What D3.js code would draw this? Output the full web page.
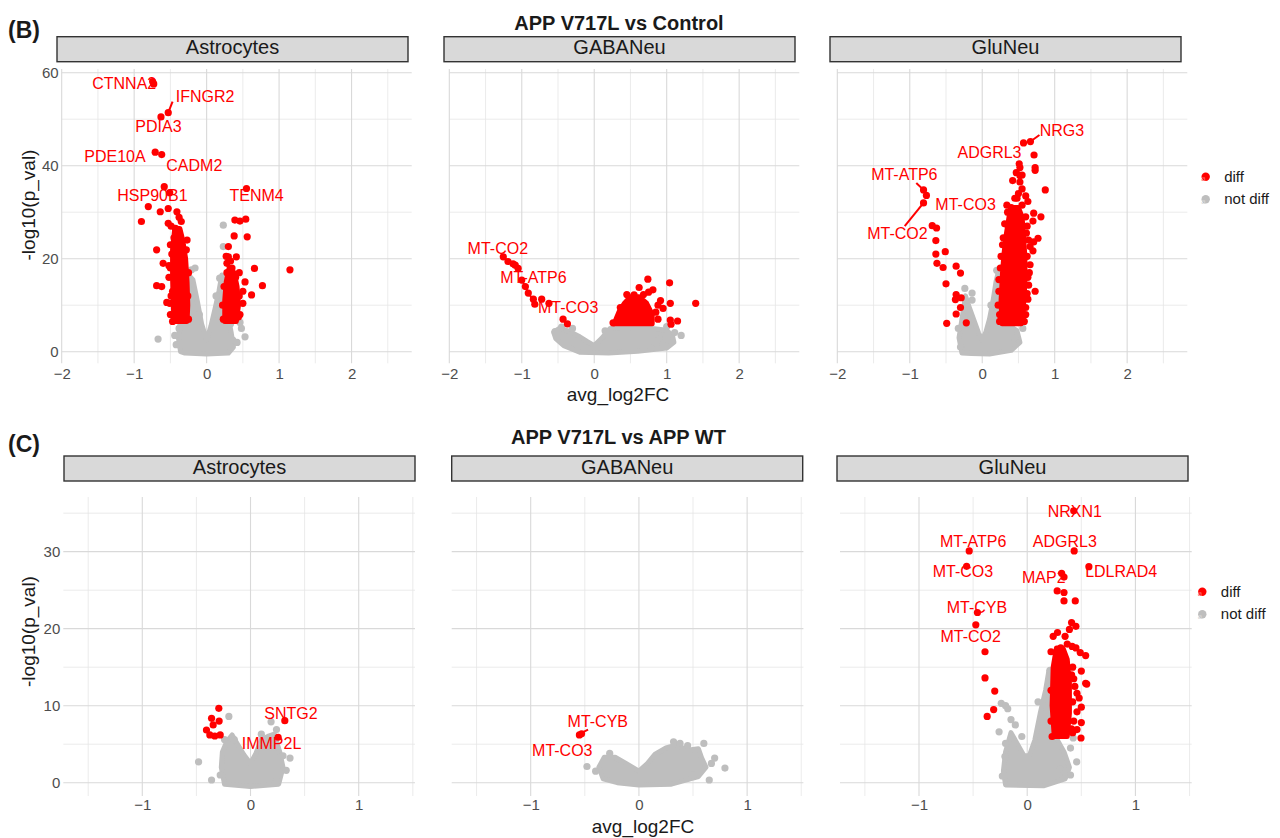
<!DOCTYPE html>
<html lang="en">
<head>
<meta charset="UTF-8">
<title>Volcano plots</title>
<script src="https://cdn.jsdelivr.net/npm/d3@7"></script>
<style>
body { margin: 0; background: #fff; }
svg { display: block; font-family: "Liberation Sans", Arial, sans-serif; }
</style>
</head>
<body>
<svg id="chart" width="1280" height="838"></svg>
<script>
// ---- data ----
const cellTypes = ['Astrocytes', 'GABANeu', 'GluNeu']

const ctrlXTicks = [-2, -1, 0, 1, 2]
const ctrlXMinor = [-1.5, -0.5, 0.5, 1.5, 2.5]
const ctrlYTicks = [0, 20, 40, 60]
const ctrlYMinor = [10, 30, 50]
const wtXTicks = [-1, 0, 1]
const wtXMinor = [-1.5, -0.5, 0.5, 1.5]
const wtYTicks = [0, 10, 20, 30]
const wtYMinor = [5, 15, 25, 35]

// APP V717L vs Control : Astrocytes
const ctrlAstroGrayCloud = [[-0.36,0],[-0.39,3],[-0.36,7],[-0.31,12],[-0.25,16.5],[-0.19,15.5],[-0.13,11],[-0.07,6],[0,2.5],[0.06,5.5],[0.12,9.5],[0.17,13],[0.21,16.5],[0.26,14],[0.29,8],[0.34,4],[0.37,1],[0.3,-0.3],[0,-0.5],[-0.3,-0.3]]
const ctrlAstroGray = [[-0.67,2.7],[0.48,5.0],[0.53,3.2],[0.46,6.3],[0.23,27.2],[0.23,22.6],[0.18,15.8],[-0.21,17.6],[-0.16,18],[0.42,2],[-0.42,1.5],[-0.38,5],[-0.33,9],[0.29,10],[0.33,6],[0.36,2.5],[-0.1,8],[0.13,12],[-0.44,3.5]]
const ctrlAstroRedCloud = [
  [[-0.45,6.5],[-0.27,6.5],[-0.26,10],[-0.27,15],[-0.29,20],[-0.33,24],[-0.37,26.5],[-0.44,26.5],[-0.47,22],[-0.47,16],[-0.46,10]],
  [[0.25,6.5],[0.41,6.5],[0.44,10],[0.42,14],[0.38,17],[0.31,18],[0.27,15],[0.25,11]]
]
const ctrlAstroRed = [[-0.745,58.1],[-0.73,57.6],[-0.53,51.4],[-0.63,50.5],[-0.71,42.9],[-0.62,42.4],[-0.585,35.5],[-0.51,34.2],[-0.805,31.2],[-0.9,28],[-0.64,30.1],[-0.53,30.8],[-0.41,30.1],[-0.38,28.9],[-0.53,27.6],[-0.43,26.5],[-0.4,25.5],[-0.45,24.5],[-0.69,21.9],[-0.28,21.9],[-0.6,19],[-0.69,14.2],[-0.62,14],[-0.51,10.4],[-0.55,10.6],[-0.5,18],[-0.48,21],[-0.52,16],[-0.47,13],
  [-0.5,8],[-0.49,12],[-0.52,18.5],[-0.5,23],[-0.49,27],[-0.35,28],[-0.26,12],[-0.25,17],[-0.27,24],[-0.3,8],[-0.47,6.5],[-0.25,7],[-0.36,22],[-0.42,19],
  [0.55,35.1],[0.39,28.3],[0.46,28.1],[0.54,28.5],[0.38,24.9],[0.56,24.7],[0.3,22.6],[0.3,20.4],[0.41,20.4],[0.66,17.9],[1.15,17.6],[0.77,14.2],[0.62,12.2],[0.53,15],[0.5,10.4],[0.32,6.8],[0.45,17],[0.5,13],[0.46,8],[0.35,18],[0.28,19],
  [0.23,7],[0.22,10],[0.24,14],[0.45,12],[0.44,7.5],[0.28,17],[0.33,19.5],[0.4,16],[0.36,12],[0.27,20.5]]
const ctrlAstroLabels = [['CTNNA2',-1.137,56.5],['IFNGR2',-0.02,53.8],['PDIA3',-0.665,47.3],['PDE10A',-1.265,40.9],['CADM2',-0.17,38.9],['HSP90B1',-0.748,32.4],['TENM4',0.69,32.4]]
const ctrlAstroSegs = [[-0.53,51.4,-0.47,53.8]]

// APP V717L vs Control : GABANeu
const ctrlGabaGrayCloud = [[-0.56,4.2],[-0.48,5.0],[-0.35,4.4],[-0.2,3.2],[-0.1,2.2],[0,1.3],[0.1,2.8],[0.22,5.0],[0.4,5.2],[0.8,5.0],[1.0,4.6],[1.08,3.4],[1.1,2.0],[1.0,0.8],[0.6,0.1],[0.2,-0.3],[-0.2,-0.1],[-0.42,1.3],[-0.53,2.8]]
const ctrlGabaGray = [[-0.54,4.3],[1.11,4.1],[0.78,0.7],[0.9,2.8],[1.2,3.5],[-0.45,5.3],[0.95,1.5],[-0.3,5],[0.15,4.5],[1.0,5.4]]
const ctrlGabaRedCloud = [[[0.28,6],[0.8,6],[0.8,8],[0.72,10.5],[0.62,11.8],[0.5,11.8],[0.42,10.5],[0.34,8.5],[0.3,7]]]
const ctrlGabaRed = [[-1.255,20.4],[-1.19,19.4],[-1.09,18.6],[-1.05,17.9],[-1.0,15.4],[-0.91,12.6],[-0.84,11.3],[-0.725,11.3],[-0.82,10.2],[-0.625,10.4],[-0.43,7.0],[-0.37,6.0],[-1.12,18.9],[-0.95,14],
  [0.74,15.6],[1.04,14.8],[0.62,13.8],[0.81,13.3],[0.75,12.8],[0.915,11.0],[1.05,10.4],[1.4,10.4],[0.95,9.3],[0.88,7.0],[1.05,6.8],[1.15,6.6],[1.06,5.9],[0.85,8.5],[0.68,12.3],[0.55,12.2],[0.88,10],[0.26,6.2],[0.45,12.3],[0.36,9.5]]
const ctrlGabaLabels = [['MT-CO2',-1.33,21.0],['MT-ATP6',-0.84,14.7],['MT-CO3',-0.36,8.3]]
const ctrlGabaSegs = [[-1.255,20.4,-1.05,17.5],[-0.98,14.8,-0.8,9.7]]

// APP V717L vs Control : GluNeu
const ctrlGluGrayCloud = [[-0.28,-0.3],[-0.32,3],[-0.29,6],[-0.26,9],[-0.23,12],[-0.19,10],[-0.12,7],[-0.05,4],[0,2.5],[0.05,4.2],[0.1,7],[0.15,11],[0.19,15],[0.22,17],[0.27,12],[0.34,6],[0.48,4.5],[0.52,2],[0.4,0.3],[0.1,-0.5],[-0.15,-0.4]]
const ctrlGluGray = [[0.56,5.0],[-0.14,12.6],[-0.14,11.1],[-0.16,7.4],[-0.24,13.6],[0.2,17.5],[0.45,3],[-0.3,1],[-0.33,5],[0.12,10]]
const ctrlGluRedCloud = [[[0.27,6],[0.54,6],[0.57,10],[0.59,15],[0.59,20],[0.57,25],[0.55,29],[0.5,31],[0.43,31],[0.37,29],[0.33,25],[0.3,21],[0.28,17],[0.26,11]]]
const ctrlGluRed = [[-0.81,34.8],[-0.77,33.6],[-0.81,32.0],[-0.69,27.1],[-0.63,26.6],[-0.64,23.9],[-0.51,21.5],[-0.64,21.0],[-0.625,19.0],[-0.54,18.1],[-0.36,18.4],[-0.30,16.9],[-0.50,14.6],[-0.36,12.3],[-0.29,11.6],[-0.37,11.2],[-0.30,9.5],[-0.36,8.1],[-0.49,6.1],[-0.22,6.2],
  [0.57,44.9],[0.665,45.2],[0.715,42.3],[0.51,40.4],[0.52,39.6],[0.73,39.6],[0.73,39.0],[0.52,37.9],[0.87,34.8],[0.42,36.8],[0.52,36.5],[0.55,35],[0.5,34],[0.6,33.5],[0.63,32.3],[0.71,29.8],[0.81,29.0],[0.7,28.1],[0.77,24.4],[0.71,23.6],[0.66,22.6],[0.7,21.7],[0.66,18.7],[0.64,14.3],[0.73,13.0],[0.63,11.3],[0.53,6.8],[0.34,31.5],[0.4,31],[0.45,33],[0.62,27],[0.65,17],[0.6,8],[0.24,8],[0.23,13],[0.25,18],[0.28,23],[0.62,20.5],[0.61,25.5],
  [0.24,6.5],[0.22,10],[0.23,15.5],[0.26,20.5],[0.29,24.5],[0.31,27.5],[0.35,30],[0.58,6.5],[0.6,9.5],[0.62,12.5],[0.63,16],[0.64,24],[0.6,29],[0.48,33],[0.55,31.5],[0.47,38.5],[0.55,38]]
const ctrlGluLabels = [['NRG3',1.10,46.4],['ADGRL3',0.10,41.7],['MT-ATP6',-1.075,36.9],['MT-CO3',-0.23,30.5],['MT-CO2',-1.17,24.2]]
const ctrlGluSegs = [[0.665,45.2,0.79,46.6],[-0.91,36.3,-0.81,34.8],[-1.07,27.0,-0.81,32.0]]

// APP V717L vs APP WT : Astrocytes
const wtAstroGrayCloud = [[-0.24,-0.2],[-0.27,2],[-0.26,4],[-0.22,5.3],[-0.17,6.2],[-0.12,5],[-0.06,3.6],[0,2.5],[0.05,3.8],[0.1,5.6],[0.16,6.0],[0.22,6.3],[0.27,4],[0.3,2],[0.26,-0.2],[0,-0.5]]
const wtAstroGray = [[-0.48,2.7],[-0.36,0.35],[-0.2,8.6],[0.365,3.2],[0.33,1.6],[0.24,0.2],[0.19,7.9],[0.24,6.9],[-0.15,5.6],[-0.24,5.6],[0.1,6.3],[-0.28,1],[0.3,3.5]]
const wtAstroRedCloud = []
const wtAstroRed = [[-0.293,9.66],[-0.36,8.36],[-0.29,8.0],[-0.345,7.5],[-0.407,6.84],[-0.376,6.2],[-0.33,6.06],[-0.28,6.2],[0.317,8.05],[0.255,5.9]]
const wtAstroLabels = [['SNTG2',0.374,8.27],['IMMP2L',0.194,4.34]]
const wtAstroSegs = []

// APP V717L vs APP WT : GABANeu
const wtGabaGrayCloud = [[-0.33,0.5],[-0.37,2],[-0.32,3.3],[-0.22,3.3],[-0.12,2.5],[0,1.5],[0.08,2.5],[0.15,3.7],[0.25,4.5],[0.35,4.9],[0.45,4.2],[0.55,4.4],[0.58,3.2],[0.62,2.0],[0.55,0.8],[0.3,-0.2],[0,-0.3],[-0.2,0]]
const wtGabaGray = [[-0.48,2.1],[-0.4,1.5],[0.6,5.1],[0.67,2.5],[0.795,1.9],[0.65,0.35],[0.32,5.3],[0.38,5.1],[0.5,1.0],[0.7,3.2],[-0.27,3.8],[0.45,4.8]]
const wtGabaRedCloud = []
const wtGabaRed = [[-0.55,6.2],[-0.53,6.35]]
const wtGabaLabels = [['MT-CYB',-0.38,7.27],['MT-CO3',-0.708,3.5]]
const wtGabaSegs = [[-0.54,6.4,-0.47,6.9]]

// APP V717L vs APP WT : GluNeu
const wtGluGrayCloud = [[-0.2,-0.3],[-0.22,1.5],[-0.2,4],[-0.15,6.5],[-0.09,5],[-0.03,3.5],[0.02,3.5],[0.07,5.5],[0.12,9],[0.17,12],[0.2,14.5],[0.24,13],[0.26,6],[0.34,4],[0.39,2],[0.35,0.5],[0.15,-0.4]]
const wtGluGray = [[-0.24,10.3],[-0.18,9.6],[-0.11,7.5],[-0.2,5.1],[-0.206,3.4],[-0.23,0.87],[-0.2,10],[-0.26,6.6],[-0.15,8.2],[0.425,5.8],[0.4,4.5],[0.457,2.7],[0.36,1],[0.4,1],[0.3,1.8],[0.21,14.6],[0.1,10.5],[-0.05,6]]
const wtGluRedCloud = [[[0.25,6],[0.37,6],[0.39,9],[0.39,13],[0.37,16],[0.33,17.5],[0.27,17.5],[0.24,15],[0.23,10]]]
const wtGluRed = [[0.43,35.3],[-0.536,30.1],[0.434,30.1],[-0.56,28.1],[0.57,28.05],[0.318,27.2],[0.34,26.7],[0.277,24.9],[0.34,24.7],[0.34,23.6],[0.444,23.6],[-0.46,22.1],[-0.475,20.5],[0.41,20.8],[0.45,20.3],[0.39,19.9],[0.35,19.0],[-0.39,17.0],[-0.39,13.6],[-0.3,11.9],[-0.31,9.5],[-0.37,8.6],[0.31,17.5],[0.415,17.7],[0.45,17.5],[0.49,16.9],[0.54,16.5],[0.54,12.9],[0.497,5.8],[0.55,12.8],[0.5,9.8],[0.5,7.8],[0.46,6.9],[0.46,11.6],[0.46,9.2],[0.43,13.5],[0.5,14.5],[0.48,11],[0.22,17],[0.24,19],
  [0.42,6.5],[0.43,8],[0.42,10.5],[0.44,12.5],[0.42,15],[0.41,14],[0.41,7],[0.22,12],[0.22,8],[0.23,6],[0.28,19.5],[0.37,18]]
const wtGluLabels = [['NRXN1',0.44,34.5],['ADGRL3',0.348,30.65],['MT-ATP6',-0.5,30.65],['MT-CO3',-0.594,26.7],['MAP2',0.153,25.97],['LDLRAD4',0.868,26.75],['MT-CYB',-0.465,22.1],['MT-CO2',-0.522,18.3]]
const wtGluSegs = []

const legendLabels = ['diff', 'not diff']

// ---- drawing ----
const RED = '#ff0000', GREY = '#bebebe'
const svg = d3.select('#chart')

const rows = [
	{
		tag: '(B)', tagY: 38, title: 'APP V717L vs Control', titleX: 619, titleY: 29.5,
		lefts: [61.7, 449.3, 837.3], stripLefts: [57, 444, 830], stripY: 36.7,
		top: 69, w: 350, h: 294.3, xDom: [-2, 2.83], yDom: [-2.5, 60.8],
		xTicks: ctrlXTicks, xMinor: ctrlXMinor, yTicks: ctrlYTicks, yMinor: ctrlYMinor,
		tickPad: 5, xTitleX: 618, xTitleY: 400.5, yTitleY: 205, legendX: 1205.7, legendY: 176.7,
		panels: [
			[ctrlAstroGrayCloud, ctrlAstroGray, ctrlAstroRedCloud, ctrlAstroRed, ctrlAstroLabels, ctrlAstroSegs],
			[ctrlGabaGrayCloud, ctrlGabaGray, ctrlGabaRedCloud, ctrlGabaRed, ctrlGabaLabels, ctrlGabaSegs],
			[ctrlGluGrayCloud, ctrlGluGray, ctrlGluRedCloud, ctrlGluRed, ctrlGluLabels, ctrlGluSegs],
		]
	},
	{
		tag: '(C)', tagY: 452, title: 'APP V717L vs APP WT', titleX: 618.5, titleY: 444,
		lefts: [63.3, 451.7, 840], stripLefts: [64, 451.7, 837], stripY: 456,
		top: 497, w: 351.7, h: 299, xDom: [-1.73, 1.52], yDom: [-1.73, 37.1],
		xTicks: wtXTicks, xMinor: wtXMinor, yTicks: wtYTicks, yMinor: wtYMinor,
		tickPad: 3.5, xTitleX: 643, xTitleY: 833, yTitleY: 631.5, legendX: 1202.3, legendY: 591.7,
		panels: [
			[wtAstroGrayCloud, wtAstroGray, wtAstroRedCloud, wtAstroRed, wtAstroLabels, wtAstroSegs],
			[wtGabaGrayCloud, wtGabaGray, wtGabaRedCloud, wtGabaRed, wtGabaLabels, wtGabaSegs],
			[wtGluGrayCloud, wtGluGray, wtGluRedCloud, wtGluRed, wtGluLabels, wtGluSegs],
		]
	}
]

rows.forEach(function (row) {
	svg.append('text').attr('x', 8).attr('y', row.tagY)
		.attr('font-size', 23).attr('font-weight', 'bold').attr('fill', '#1a1a1a').text(row.tag)
	svg.append('text').attr('x', row.titleX).attr('y', row.titleY)
		.attr('text-anchor', 'middle').attr('font-size', 20).attr('font-weight', 'bold')
		.attr('fill', '#1a1a1a').text(row.title)

	row.panels.forEach(function (p, i) {
		let [grayCloud, gray, redCloud, red, labels, segs] = p
		let left = row.lefts[i]
		let x = d3.scaleLinear().domain(row.xDom).range([left, left + row.w])
		let y = d3.scaleLinear().domain(row.yDom).range([row.top + row.h, row.top])
		let g = svg.append('g')

		// strip
		g.append('rect').attr('x', row.stripLefts[i]).attr('y', row.stripY)
			.attr('width', 351).attr('height', 25)
			.attr('fill', '#d9d9d9').attr('stroke', '#333').attr('stroke-width', 1.4)
		g.append('text').attr('x', row.stripLefts[i] + 175.5).attr('y', row.stripY + 17.5)
			.attr('text-anchor', 'middle').attr('font-size', 20).attr('fill', '#1a1a1a')
			.text(cellTypes[i])

		// grid
		let grid = g.append('g')
		grid.selectAll('.vmin').data(row.xMinor).join('line')
			.attr('x1', d => x(d)).attr('x2', d => x(d)).attr('y1', row.top).attr('y2', row.top + row.h)
			.attr('stroke', '#e6e6e6').attr('stroke-width', 0.8)
		grid.selectAll('.hmin').data(row.yMinor).join('line')
			.attr('x1', left).attr('x2', left + row.w).attr('y1', d => y(d)).attr('y2', d => y(d))
			.attr('stroke', '#e6e6e6').attr('stroke-width', 0.8)
		grid.selectAll('.vmaj').data(row.xTicks).join('line')
			.attr('x1', d => x(d)).attr('x2', d => x(d)).attr('y1', row.top).attr('y2', row.top + row.h)
			.attr('stroke', '#d9d9d9').attr('stroke-width', 1.1)
		grid.selectAll('.hmaj').data(row.yTicks).join('line')
			.attr('x1', left).attr('x2', left + row.w).attr('y1', d => y(d)).attr('y2', d => y(d))
			.attr('stroke', '#d9d9d9').attr('stroke-width', 1.1)

		// axes (labels only)
		let xa = g.append('g').attr('transform', `translate(0,${row.top + row.h})`)
			.call(d3.axisBottom(x).tickValues(row.xTicks).tickSize(0).tickPadding(row.tickPad)
				.tickFormat(d => d < 0 ? '\u2212' + Math.abs(d) : d))
		xa.select('.domain').remove()
		xa.selectAll('text').attr('font-size', 15).attr('fill', '#4d4d4d').attr('font-family', null)
		if (i === 0) {
			let ya = g.append('g').attr('transform', `translate(${left},0)`)
				.call(d3.axisLeft(y).tickValues(row.yTicks).tickSize(0).tickPadding(3))
			ya.select('.domain').remove()
			ya.selectAll('text').attr('font-size', 15).attr('fill', '#4d4d4d').attr('font-family', null)
		}

		// points
		let line = d3.line().x(d => x(d[0])).y(d => y(d[1])).curve(d3.curveLinearClosed)
		g.append('path').datum(grayCloud).attr('d', line)
			.attr('fill', GREY).attr('stroke', GREY).attr('stroke-width', 5).attr('stroke-linejoin', 'round')
		g.selectAll('.gp').data(gray).join('circle')
			.attr('cx', d => x(d[0])).attr('cy', d => y(d[1])).attr('r', 3.6).attr('fill', GREY)
		g.selectAll('.rc').data(redCloud).join('path').attr('d', line)
			.attr('fill', RED).attr('stroke', RED).attr('stroke-width', 5).attr('stroke-linejoin', 'round')
		g.selectAll('.rp').data(red).join('circle')
			.attr('cx', d => x(d[0])).attr('cy', d => y(d[1])).attr('r', 3.6).attr('fill', RED)
		g.selectAll('.seg').data(segs).join('line')
			.attr('x1', d => x(d[0])).attr('y1', d => y(d[1])).attr('x2', d => x(d[2])).attr('y2', d => y(d[3]))
			.attr('stroke', RED).attr('stroke-width', 2)
		g.selectAll('.lab').data(labels).join('text')
			.attr('x', d => x(d[1])).attr('y', d => y(d[2]))
			.attr('text-anchor', 'middle').attr('font-size', 16).attr('fill', RED)
			.text(d => d[0])
	})

	// axis titles
	svg.append('text').attr('x', row.xTitleX).attr('y', row.xTitleY).attr('text-anchor', 'middle')
		.attr('font-size', 19).attr('fill', '#1a1a1a').text('avg_log2FC')
	svg.append('text').attr('transform', `translate(35,${row.yTitleY}) rotate(-90)`)
		.attr('text-anchor', 'middle').attr('font-size', 19).attr('fill', '#1a1a1a').text('-log10(p_val)')

	// legend
	let lg = svg.append('g').attr('transform', `translate(${row.legendX},${row.legendY})`)
	let items = lg.selectAll('g').data(legendLabels).join('g')
		.attr('transform', (d, k) => `translate(0,${k * 22.5})`)
	items.append('circle').attr('r', 4.2).attr('fill', (d, k) => k === 0 ? RED : GREY)
	items.append('text').attr('x', -4.5).attr('y', 4.5).attr('font-size', 8)
		.attr('fill', (d, k) => k === 0 ? '#ff6666' : '#d6d6d6').text('a')
	items.append('text').attr('x', 18.5).attr('y', 5).attr('font-size', 15).attr('fill', '#1a1a1a').text(d => d)
})
</script>
</body>
</html>
